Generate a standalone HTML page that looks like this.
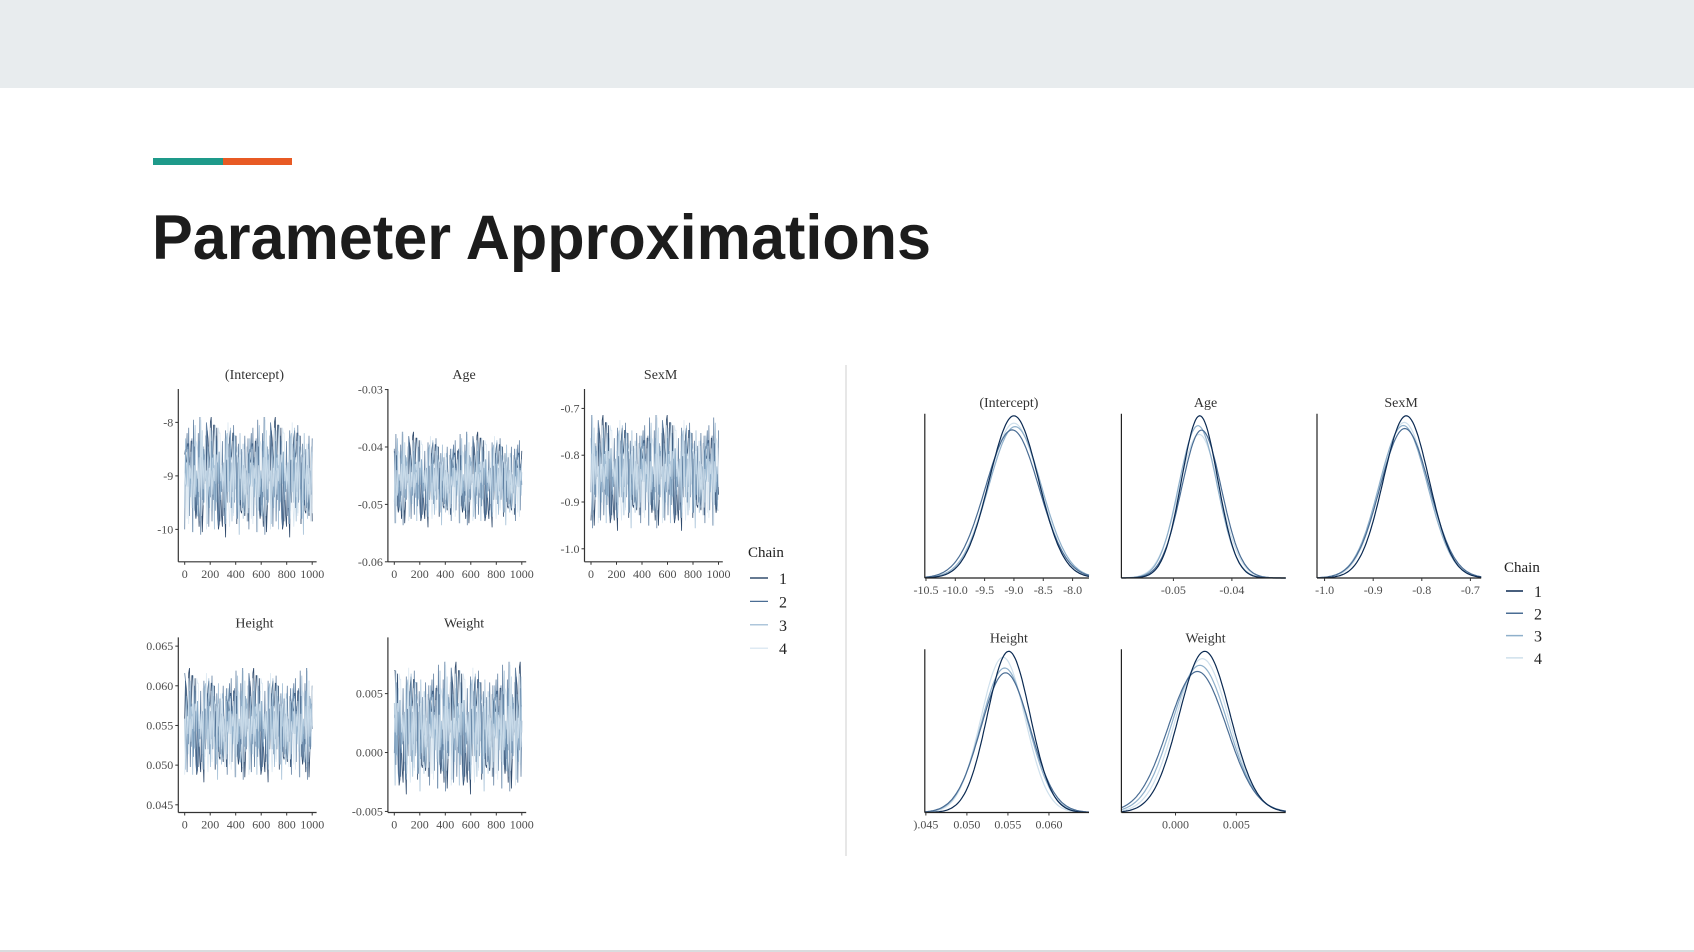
<!DOCTYPE html>
<html><head><meta charset="utf-8"><style>
html,body{margin:0;padding:0;background:#fff;}
svg{display:block;font-family:"Liberation Serif",serif;}
</style></head><body>
<svg id="s" width="1694" height="952" viewBox="0 0 1694 952">
<rect x="0" y="0" width="1694" height="88" fill="#e8ecee"/>
<rect x="0" y="950" width="1694" height="2" fill="#d9dcde"/>
<rect x="153" y="158" width="70" height="7" fill="#1e9a8a"/>
<rect x="223" y="158" width="69" height="7" fill="#e85a24"/>
<text x="152" y="259" font-family="Liberation Sans, sans-serif" font-weight="bold" font-size="63" fill="#1c1c1c" textLength="779" lengthAdjust="spacingAndGlyphs">Parameter Approximations</text>
<line x1="846" y1="365" x2="846" y2="856" stroke="#cfcfcf" stroke-width="1"/>
<g id="traces"></g>
<g id="dens"></g>
</svg>
<script>
const params = ["(Intercept)","Age","SexM","Height","Weight"];
const chainColors = ["#0b2a52","#4a6d94","#93b4cf","#d4e3ef"];
const chainLabels = ["1","2","3","4"];
const postMeans = [-9.0,-0.0455,-0.835,0.0552,0.0022];
const postSds = [0.5,0.0037,0.055,0.0032,0.0025];
const densMeans = [[-9.0,-9.03,-8.98,-9.0],[-0.0455,-0.0452,-0.0458,-0.0456],[-0.832,-0.835,-0.838,-0.836],[0.0551,0.0547,0.0546,0.0544],[0.0024,0.0018,0.0020,0.0022]];
const densSds = [[0.42,0.46,0.45,0.44],[0.0031,0.0034,0.0033,0.0035],[0.047,0.051,0.050,0.049],[0.0026,0.0030,0.0029,0.0027],[0.0021,0.0024,0.0023,0.0022]];
const z1 = [0.8,-1.2,1.5,-0.3,0.6,-1.8,1.1,-0.7,0.2,1.9,-1.4,0.5,-0.9,1.3,-2.1,0.7,-0.2,1.6,-1.1,0.4,-0.6,2.2,-1.5,0.9,-0.4,1.2,-1.9,0.3,-0.8,1.7,-1.3,0.6,-0.1,1.4,-2.0,0.8,-0.5,1.0,-1.6,0.2,1.8,-1.0,0.5,-1.7,1.1,-0.3,0.9,-2.3,1.5,-0.6,0.4,-1.2,1.9,-0.8,0.1,-1.5,1.3,-0.4,0.7,-1.9,1.6,-0.2,0.3,-1.1,2.0,-0.7,0.6,-1.4,1.2,-0.9,0.8,-1.8,1.4,-0.1,0.5,-1.3,1.7,-0.6,0.2,-1.0];
const z2 = [-1.1,0.9,-0.4,1.7,-1.6,0.3,1.2,-2.0,0.6,-0.2,1.5,-1.3,0.8,-0.7,2.1,-1.0,0.4,-1.8,1.1,-0.5,1.4,-0.9,0.2,-1.5,1.9,-0.3,0.7,-2.2,1.3,-0.6,0.5,-1.2,1.8,-0.8,0.1,-1.7,1.0,-0.4,1.6,-1.1,0.3,-1.9,1.2,-0.2,0.9,-1.4,2.0,-0.7,0.6,-1.6,1.4,-0.1,0.8,-1.3,1.7,-0.5,0.2,-2.1,1.1,-0.9,0.5,-1.0,1.5,-0.3,0.7,-1.7,1.3,-0.6,0.4,-1.5,2.2,-0.8,0.1,-1.2,1.0,-0.4,1.6,-1.9,0.9,-0.2];
const z3 = [0.3,-0.7,1.1,-1.5,0.5,0.9,-1.0,1.6,-0.4,0.2,-1.8,1.3,-0.6,0.7,-1.2,1.9,-0.1,-0.9,1.4,-1.6,0.6,-0.3,1.0,-2.0,0.8,1.5,-0.5,-1.1,1.7,-0.2,0.4,-1.4,1.2,-0.8,2.1,-0.6,0.3,-1.7,0.9,-0.4,1.3,-1.2,0.1,1.8,-0.9,0.5,-1.5,1.1,-0.3,0.7,-2.2,1.4,-0.7,0.2,-1.0,1.6,-0.5,0.9,-1.3,0.4,1.9,-1.8,0.6,-0.2,1.2,-1.1,0.8,-0.6,1.5,-1.4,0.3,-0.8,1.7,-0.4,1.0,-1.6,0.5,-0.1,1.3,-0.9];
const z4 = [-0.5,1.3,-1.0,0.4,-1.7,1.8,-0.2,0.7,-1.3,1.0,-0.6,0.3,1.6,-1.9,0.8,-0.4,1.2,-1.1,0.5,2.0,-1.4,0.1,-0.8,1.5,-0.3,-1.6,0.9,1.1,-2.1,0.6,-0.2,1.4,-0.9,0.3,-1.2,1.7,-0.7,0.5,-1.5,1.0,-0.1,2.2,-1.3,0.4,-0.8,1.2,-1.8,0.7,-0.4,1.6,-1.0,0.2,-1.6,0.9,-0.5,1.8,-1.1,0.6,-0.3,1.3,-2.0,0.8,-0.6,1.1,-1.4,0.4,-0.9,1.9,-0.2,0.7,-1.7,1.2,-0.5,0.3,-1.2,1.5,-0.7,0.9,-1.5,0.2];
const zChains = [z1,z2,z3,z4];
const iterTicks = [0,200,400,600,800,1000];
const traceYTicks = [[-8,-9,-10],[-0.03,-0.04,-0.05,-0.06],[-0.7,-0.8,-0.9,-1.0],[0.065,0.060,0.055,0.050,0.045],[0.005,0.000,-0.005]];
const traceYLabels = [["-8","-9","-10"],["-0.03","-0.04","-0.05","-0.06"],["-0.7","-0.8","-0.9","-1.0"],["0.065","0.060","0.055","0.050","0.045"],["0.005","0.000","-0.005"]];
const traceDomains = [[-10.606,-7.376],[-0.0600,-0.0299],[-1.0278,-0.6585],[0.04403,0.0661],[-0.00509,0.00977]];
const densXTicks = [[-10.5,-10.0,-9.5,-9.0,-8.5,-8.0],[-0.05,-0.04],[-1.0,-0.9,-0.8,-0.7],[0.045,0.050,0.055,0.060],[0.000,0.005]];
const densXLabels = [["-10.5","-10.0","-9.5","-9.0","-8.5","-8.0"],["-0.05","-0.04"],["-1.0","-0.9","-0.8","-0.7"],[").045","0.050","0.055","0.060"],["0.000","0.005"]];
const densDomains = [[-10.52,-7.72],[-0.05889,-0.0308],[-1.0156,-0.6778],[0.04487,0.06488],[-0.00445,0.00906]];

const NS="http://www.w3.org/2000/svg";
function mk(tag,attrs,parent){const e=document.createElementNS(NS,tag);for(const k in attrs)e.setAttribute(k,attrs[k]);parent.appendChild(e);return e;}
function txt(x,y,s,size,anchor,fill,parent){const t=mk("text",{x:x,y:y,"font-size":size,"text-anchor":anchor,fill:fill},parent);t.textContent=s;return t;}

const tPanels=[
 {x0:178.3,x1:316.6,top:389,bot:561.8,ix0:184.7,ix1:312.2},
 {x0:387.9,x1:526.2,top:389,bot:561.8,ix0:394.3,ix1:521.8},
 {x0:584.5,x1:722.8,top:389,bot:561.8,ix0:591,ix1:718.5},
 {x0:178.3,x1:316.6,top:637.4,bot:812.5,ix0:184.7,ix1:312.2},
 {x0:387.9,x1:526.2,top:637.4,bot:812.5,ix0:394.3,ix1:521.8}];
const TG=document.getElementById("traces");
params.forEach((p,pi)=>{
  const P=tPanels[pi];
  const g=mk("g",{},TG);
  
  
  const [d0,d1]=traceDomains[pi];
  const ys=v=>P.bot-(v-d0)/(d1-d0)*(P.bot-P.top);
  const xs=i=>P.ix0+i/1000*(P.ix1-P.ix0);
  for(let c=0;c<4;c++){
    const z=zChains[c];const n=z.length;const N=2*n;let d="";
    for(let i=0;i<N;i++){
      const zz=z[(i*37+pi*13+c*7)%n];
      const v=postMeans[pi]+postSds[pi]*zz;
      const it=i/(N-1)*1000;
      d+=(i?"L":"M")+xs(it).toFixed(1)+" "+ys(v).toFixed(1);
    }
    const path=mk("path",{d:d,fill:"none",stroke:chainColors[c],"stroke-width":0.8,opacity:0.85},g);
    
    
  }
  mk("line",{x1:P.x0,y1:P.top,x2:P.x0,y2:P.bot,stroke:"#333","stroke-width":1.2},g);
  mk("line",{x1:P.x0,y1:P.bot,x2:P.x1,y2:P.bot,stroke:"#333","stroke-width":1.2},g);
  iterTicks.forEach(t=>{const x=xs(t);mk("line",{x1:x,y1:P.bot,x2:x,y2:P.bot+3,stroke:"#333"},g);
    const l=txt(x,P.bot+16,String(t),12,"middle","#4d4d4d",g);});
  traceYTicks[pi].forEach((t,k)=>{const y=ys(t);mk("line",{x1:P.x0-3,y1:y,x2:P.x0,y2:y,stroke:"#333"},g);
    const l=txt(P.x0-5,y+4,traceYLabels[pi][k],12,"end","#4d4d4d",g);});
  const tt=txt((P.x0+P.x1)/2+7,P.top-10,p,14,"middle","#333",g);
  
});
const L1=mk("g",{},TG);

txt(748,557,"Chain",15,"start","#222",L1);
chainLabels.forEach((c,i)=>{const y=578+i*23.4;mk("line",{x1:750,y1:y,x2:768,y2:y,stroke:chainColors[i],"stroke-width":1.2},L1);txt(779,y+6,c,16,"start","#222",L1);});

const dPanels=[
 {x0:924.8,x1:1089,top:413.8,bot:578},
 {x0:1121.4,x1:1285.7,top:413.8,bot:578},
 {x0:1317,x1:1481.2,top:413.8,bot:578},
 {x0:924.8,x1:1089,top:649.3,bot:812.5},
 {x0:1121.4,x1:1285.7,top:649.3,bot:812.5}];
const DG=document.getElementById("dens");
const dcol=["#0b2a52","#4a6d94","#8fb0cb","#cfe0ec"];
params.forEach((p,pi)=>{
  const P=dPanels[pi];
  const g=mk("g",{},DG);
  
  
  const [d0,d1]=densDomains[pi];
  const xs=v=>P.x0+(v-d0)/(d1-d0)*(P.x1-P.x0);
  const minSd=Math.min(...densSds[pi]);
  const maxD=1/(minSd*Math.sqrt(2*Math.PI));
  const ys=v=>P.bot-v/maxD*(P.bot-P.top-2);
  for(let c=3;c>=0;c--){
    const m=densMeans[pi][c],s=densSds[pi][c];let d="";
    for(let k=0;k<=120;k++){const v=d0+(d1-d0)*k/120;const dv=Math.exp(-0.5*((v-m)/s)**2)/(s*Math.sqrt(2*Math.PI));
      d+=(k?"L":"M")+xs(v).toFixed(1)+" "+ys(dv).toFixed(1);}
    const path=mk("path",{d:d,fill:"none",stroke:dcol[c],"stroke-width":1.2},g);
    
    
  }
  mk("line",{x1:P.x0,y1:P.top,x2:P.x0,y2:P.bot,stroke:"#222","stroke-width":1.2},g);
  mk("line",{x1:P.x0,y1:P.bot,x2:P.x1,y2:P.bot,stroke:"#222","stroke-width":1.2},g);
  densXTicks[pi].forEach((t,k)=>{const x=xs(t);mk("line",{x1:x,y1:P.bot,x2:x,y2:P.bot+3,stroke:"#333"},g);
    const l=txt(x,P.bot+16,densXLabels[pi][k],12,"middle","#4d4d4d",g);});
  const tt=txt((P.x0+P.x1)/2+2,P.top-7,p,14,"middle","#333",g);
  
});
const L2=mk("g",{},DG);

txt(1504,572,"Chain",15,"start","#222",L2);
chainLabels.forEach((c,i)=>{const y=591+i*22.3;mk("line",{x1:1506,y1:y,x2:1523,y2:y,stroke:dcol[i],"stroke-width":1.5},L2);txt(1534,y+6,c,16,"start","#222",L2);});
</script>
</body></html>
